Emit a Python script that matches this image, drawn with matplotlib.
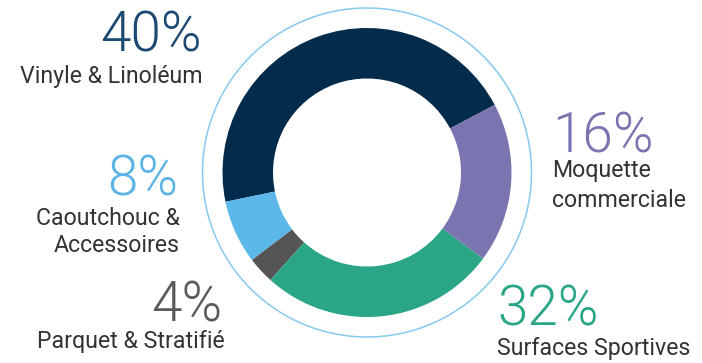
import matplotlib
matplotlib.use("Agg")
import matplotlib.pyplot as plt
from matplotlib.patches import Circle
from matplotlib import font_manager

# Data (wedge shares as drawn, labels as printed)
categories = ["Vinyle & Linoléum", "Caoutchouc &\nAccessoires", "Parquet & Stratifié",
              "Surfaces Sportives", "Moquette\ncommerciale"]
wedge_values = [45.5, 7.1, 3.0, 26.5, 17.9]
pct_labels = ["40%", "8%", "4%", "32%", "16%"]
colors = ["#032b4b", "#5cb8e8", "#555555", "#2aa586", "#7a75b0"]
pct_colors = ["#1d4a72", "#5cb4e6", "#5a5a5a", "#2aa586", "#7a75b0"]

W, H = 702, 363
fig = plt.figure(figsize=(W / 100, H / 100), dpi=100)
fig.patch.set_facecolor("white")

cx, cy = 367, 172.5
half = 172
ax = fig.add_axes([(cx - half) / W, (H - cy - half) / H, 2 * half / W, 2 * half / H])
ax.set_xlim(-half, half)
ax.set_ylim(-half, half)
ax.set_aspect("equal")
ax.axis("off")

r_out, r_in, r_ring = 144.5, 94, 164.5
ax.pie(wedge_values, colors=colors, radius=r_out, startangle=27.9, counterclock=True,
       wedgeprops=dict(width=r_out - r_in, linewidth=0))
ax.set_xlim(-half, half)
ax.set_ylim(-half, half)
ax.add_patch(Circle((0, 0), r_ring, fill=False, edgecolor="#86c9ef", linewidth=1.1))

def fx(x):
    return x / W

def fy(y):
    return 1 - y / H

# pick a light (300) Roboto face if one is installed, else regular
light_path = None
for f in font_manager.fontManager.ttflist:
    if f.name.startswith("Roboto") and f.weight == 300 and f.style == "normal" and "Condensed" not in f.name:
        light_path = f.fname
        break
if light_path:
    pfont = dict(fontproperties=font_manager.FontProperties(fname=light_path, size=39.5))
else:
    pfont = dict(fontproperties=font_manager.FontProperties(family="Roboto", weight="normal", size=39.5))

lab_size = 16.7
lab_color = "#333333"
lfont = dict(family="Roboto", fontsize=lab_size)

# Vinyle
fig.text(fx(202), fy(52), pct_labels[0], color=pct_colors[0], ha="right", va="baseline", **pfont)
fig.text(fx(203), fy(83), categories[0], color=lab_color, ha="right", va="baseline", **lfont)
# Caoutchouc
fig.text(fx(178), fy(195), pct_labels[1], color=pct_colors[1], ha="right", va="baseline", **pfont)
l1, l2 = categories[1].split("\n")
fig.text(fx(180), fy(225), l1, color=lab_color, ha="right", va="baseline", **lfont)
fig.text(fx(180), fy(252), l2, color=lab_color, ha="right", va="baseline", **lfont)
# Parquet
fig.text(fx(222), fy(322), pct_labels[2], color=pct_colors[2], ha="right", va="baseline", **pfont)
fig.text(fx(225), fy(348), categories[2], color=lab_color, ha="right", va="baseline", **lfont)
# Surfaces
fig.text(fx(497), fy(325), pct_labels[3], color=pct_colors[3], ha="left", va="baseline", **pfont)
fig.text(fx(497), fy(355), categories[3], color=lab_color, ha="left", va="baseline", **lfont)
# Moquette
fig.text(fx(552), fy(153), pct_labels[4], color=pct_colors[4], ha="left", va="baseline", **pfont)
m1, m2 = categories[4].split("\n")
fig.text(fx(552), fy(177), m1, color=lab_color, ha="left", va="baseline", **lfont)
fig.text(fx(552), fy(207), m2, color=lab_color, ha="left", va="baseline", **lfont)

fig.savefig("out.png", dpi=100, facecolor="white")
